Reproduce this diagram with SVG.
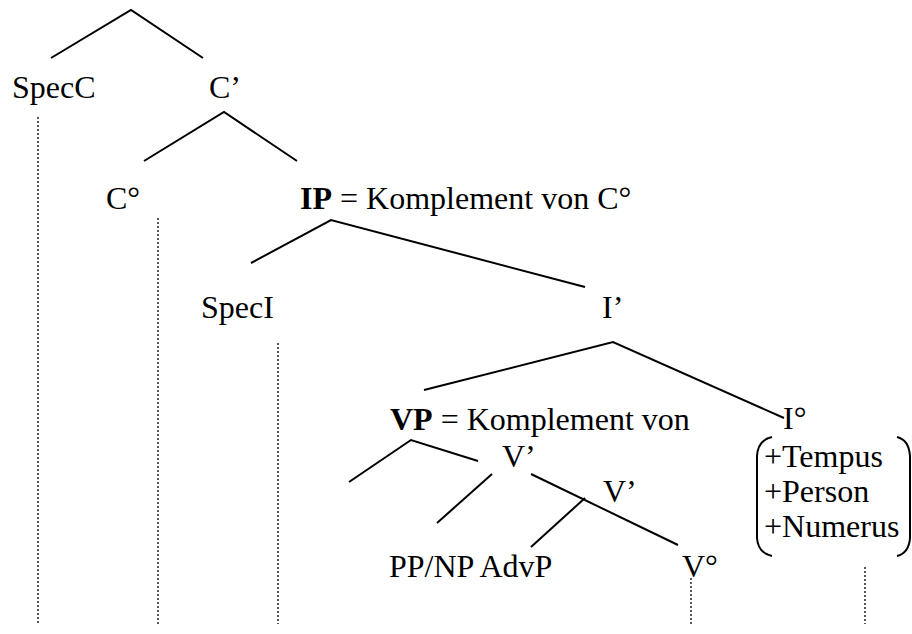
<svg xmlns="http://www.w3.org/2000/svg" width="912" height="634" viewBox="0 0 912 634">
<style>
text{font-family:"Liberation Serif","Times New Roman",serif;font-size:32px;fill:#000}
.b{font-weight:bold}
.e{stroke:#000;stroke-width:2;fill:none}
.d{stroke:#000;stroke-width:1.3;stroke-dasharray:2 2;fill:none}
</style>
<rect width="912" height="634" fill="#fff"/>
<g id="connectors">
<path class="e" d="M51,58 L131,10 L203,58"/>
<path class="e" d="M144,161 L224,112 L297,161"/>
<path class="e" d="M251,263 L331,220 L585,287"/>
<path class="e" d="M424,390 L613,342 L784,418"/>
<path class="e" d="M349,482 L411,440 L478,461"/>
<path class="e" d="M437,523 L492,474"/>
<path class="e" d="M531,474 L678,545"/>
<path class="e" d="M531,547 L585,498"/>
<path class="d" d="M38,117 V624"/>
<path class="d" d="M158,218 V624"/>
<path class="d" d="M278,343 V624"/>
<path class="d" d="M691,578 V624"/>
<path class="d" d="M865,567 V624"/>
</g>
<g id="specC"><text x="12" y="98">SpecC</text></g>
<g id="cbar"><text x="209" y="98">C’</text></g>
<g id="c0"><text x="106" y="209">C°</text></g>
<g id="ip"><text x="300" y="209"><tspan class="b">IP</tspan> = Komplement von C°</text></g>
<g id="specI"><text x="201" y="318">SpecI</text></g>
<g id="ibar"><text x="602" y="318">I’</text></g>
<g id="vp"><text x="390" y="430"><tspan class="b">VP</tspan> = Komplement von</text></g>
<g id="i0"><text x="783" y="429">I°</text></g>
<g id="vbar1"><text x="502" y="467">V’</text></g>
<g id="vbar2"><text x="603" y="502">V’</text></g>
<g id="ppnp"><text x="389" y="577">PP/NP AdvP</text></g>
<g id="v0"><text x="682" y="577">V°</text></g>
<g id="features">
<path class="e" d="M772,437 Q758,440 757,456 L757,538 Q758,553 772,556"/>
<path class="e" d="M897,437 Q909,440 910,456 L910,538 Q909,553 897,556"/>
<text x="764" y="467">+Tempus</text>
<text x="764" y="502">+Person</text>
<text x="764" y="537">+Numerus</text>
</g>
</svg>
